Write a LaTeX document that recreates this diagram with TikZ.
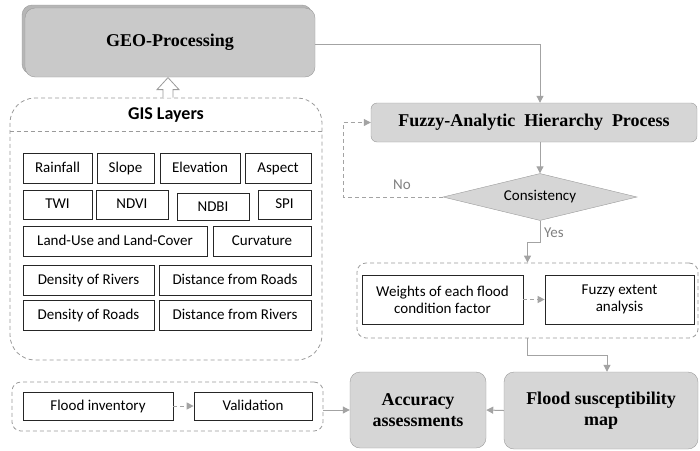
\documentclass[tikz,border=0pt]{standalone}
\usepackage{fontspec}
\setmainfont{Carlito}
\newfontfamily\titrefont{Liberation Serif}
\usepackage{xcolor}
\usepackage{tikz}
\usetikzlibrary{shapes.geometric, arrows.meta, shadows, positioning}

\definecolor{gristrait}{HTML}{A3A3A3}
\definecolor{grisfond}{HTML}{D6D6D6}
\definecolor{grisbord}{HTML}{9A9A9A}

\begin{document}
\begin{tikzpicture}[x=1pt, y=-1pt, >={Triangle[length=7pt,width=7pt]},
    couche/.style={draw=black!85, line width=0.7pt, inner sep=0pt, font=\fontsize{15}{17}\selectfont},
    ligne/.style={text height=10.5pt, text depth=2.5pt},
    groupe/.style={draw=grisbord, dashed, dash pattern=on 4pt off 3pt, line width=0.8pt, rounded corners=9pt, inner sep=0pt},
    etape/.style={draw=grisbord, fill=grisfond, rounded corners=10pt, inner sep=0pt, align=center, font=\titrefont\bfseries\fontsize{18}{21}\selectfont},
    fleche/.style={draw=gristrait, line width=1pt, ->},
    retour/.style={draw=gristrait, line width=1pt, ->, dashed, dash pattern=on 4pt off 3pt}]

    \useasboundingbox (0,0) rectangle (700,450);

    % Étapes principales
    \node[etape, fill=grisfond!94!black, minimum width=290, minimum height=69,
          copy shadow={shadow xshift=-3pt, shadow yshift=3pt, fill=grisfond!85!black}] (geo) at (170,42.5) {GEO-Processing};
    \node[etape, rounded corners=6pt, minimum width=326, minimum height=39] (fahp) at (534,122.5) {Fuzzy-Analytic\ \ Hierarchy\ \ Process};
    \node[diamond, draw=grisbord, fill=grisfond, aspect=4.1, inner sep=0pt, minimum width=194, minimum height=47,
          font=\fontsize{15}{17}\selectfont] (cons) at (540,197) {Consistency};
    \node[etape, minimum width=136, minimum height=76] (precis) at (418,410) {Accuracy\\assessments};
    \node[etape, minimum width=194, minimum height=77] (carte) at (601,410.5) {Flood\ susceptibility\\map};

    % Couches SIG
    \node[groupe, rounded corners=25pt, minimum width=312, minimum height=262] (gis) at (166,229) {};
    \node[font=\bfseries\fontsize{18}{20}\selectfont] (titregis) at (166,115) {GIS Layers};
    \draw[draw=grisbord, dashed, dash pattern=on 4pt off 3pt, line width=0.8pt] (gis.west |- 0,131) -- (gis.east |- 0,131);
    \draw[draw=grisbord, fill=white, line width=0.8pt] ([xshift=-3pt]gis.north) -- ++(0,-8) -- ++(-6,0) -- ++(11,-12) -- ++(11,12) -- ++(-6,0) -- ++(0,8);

    \node[couche, ligne, minimum width=69, minimum height=30] (pluie) at (57.5,168) {Rainfall};
    \node[couche, ligne, minimum width=57, minimum height=30] (pente) at (125.5,168) {Slope};
    \node[couche, ligne, minimum width=80, minimum height=30] (altitude) at (200,168) {Elevation};
    \node[couche, ligne, minimum width=66, minimum height=30] (aspect) at (278,168) {Aspect};

    \node[couche, ligne, minimum width=69, minimum height=29] (twi) at (57.5,204.5) {TWI};
    \node[couche, ligne, minimum width=72, minimum height=29] (ndvi) at (132,204.5) {NDVI};
    \node[couche, ligne, minimum width=72, minimum height=27] (ndbi) at (213,207) {NDBI};
    \node[couche, ligne, minimum width=53, minimum height=29] (spi) at (284.5,204.5) {SPI};

    \node[couche, ligne, minimum width=184, minimum height=30] (lulc) at (115,241) {Land-Use and Land-Cover};
    \node[couche, ligne, minimum width=98, minimum height=30] (courbure) at (262,241) {Curvature};

    \node[couche, ligne, minimum width=131, minimum height=30] (densriv) at (88.5,280) {Density of Rivers};
    \node[couche, ligne, minimum width=152, minimum height=30] (distroute) at (235,280) {Distance from Roads};
    \node[couche, ligne, minimum width=131, minimum height=30] (densroute) at (88.5,315) {Density of Roads};
    \node[couche, ligne, minimum width=152, minimum height=30] (distriv) at (235,315) {Distance from Rivers};

    % Inventaire et validation
    \node[groupe, minimum width=311, minimum height=49] (bas) at (167.5,406.5) {};
    \node[couche, ligne, minimum width=150, minimum height=28] (inventaire) at (98,406) {Flood inventory};
    \node[couche, ligne, minimum width=118, minimum height=28] (validation) at (253,406) {Validation};

    % Poids et analyse
    \node[groupe, minimum width=341, minimum height=75] (milieu) at (527.5,300.5) {};
    \node[couche, align=center, minimum width=161, minimum height=49] (poids) at (442.5,299.5) {Weights of each flood\\condition factor};
    \node[couche, align=center, minimum width=149, minimum height=49] (etendue) at (619.5,299.5) {Fuzzy extent\\analysis};

    % Transitions
    \draw[fleche] (geo.east |- 0,44) -| ([xshift=6pt]fahp.north);
    \draw[fleche] ([xshift=6pt]fahp.south) -- (cons.north);
    \draw[retour] (cons.west) -- (343,197) |- (fahp.west);
    \node[text=gray, font=\fontsize{15}{17}\selectfont] (non) at (402,185) {No};
    \draw[fleche] (cons.south) -- ++(0,22) -| (milieu.north);
    \node[text=gray, font=\fontsize{15}{17}\selectfont] (oui) at (554,233) {Yes};
    \draw[retour] (poids.east) -- (etendue.west);
    \draw[fleche] (milieu.south) -- ++(0,17) -| ([xshift=6pt]carte.north);
    \draw[fleche] (carte.west) -- (precis.east);
    \draw[retour] (inventaire.east) -- (validation.west);
    \draw[fleche] ([yshift=-4pt]bas.east) -- ++(10,0) |- (precis.west);

\end{tikzpicture}
\end{document}
